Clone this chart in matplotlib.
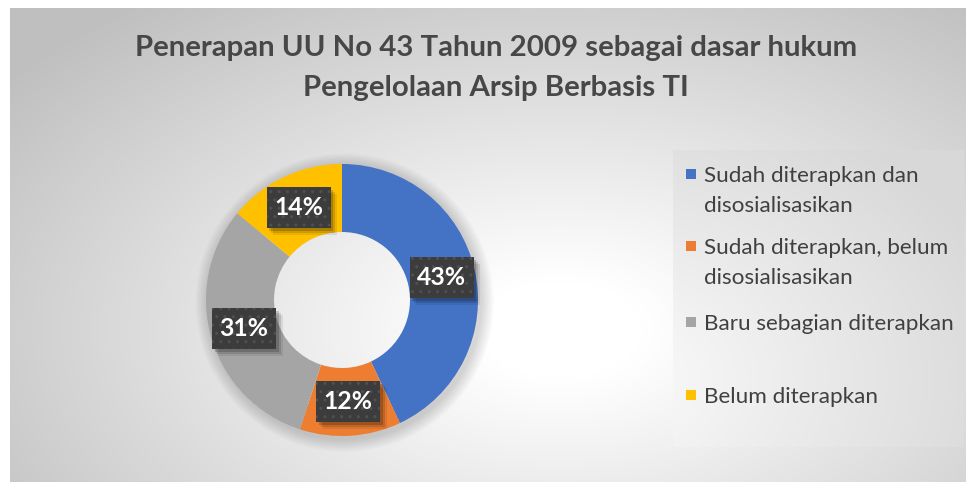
import numpy as np
import matplotlib
matplotlib.use("Agg")
import matplotlib.pyplot as plt
from matplotlib.patches import Rectangle, Wedge

# ---- data ----
title_lines = ["Penerapan UU No 43 Tahun 2009 sebagai dasar hukum",
               "Pengelolaan Arsip Berbasis TI"]
categories = ["Sudah diterapkan dan\ndisosialisasikan",
              "Sudah diterapkan, belum\ndisosialisasikan",
              "Baru sebagian diterapkan",
              "Belum diterapkan"]
values = [43, 12, 31, 14]
colors = ["#4472C4", "#ED7D31", "#A5A5A5", "#FFC000"]

W, H = 971, 482
fig = plt.figure(figsize=(W / 100, H / 100), dpi=100)
fig.patch.set_facecolor("white")

# background axes in pixel coordinates
bg = fig.add_axes([0, 0, 1, 1])
bg.set_xlim(0, W)
bg.set_ylim(H, 0)
bg.axis("off")

# chart area with radial gradient
x0, y0, x1, y1 = 10, 8, 966, 482
xx, yy = np.meshgrid(np.linspace(x0, x1, 400), np.linspace(y0, y1, 200))
cx, cy = 560, 330
d = np.sqrt(((xx - cx) / 560) ** 2 + ((yy - cy) / 330) ** 2)
t = np.clip((d - 0.15) / 1.1, 0, 1)
lo, hi = 1.0, 0.75
g = hi + (lo - hi) * (1 - t)
img = np.dstack([g, g, g])
bg.imshow(img, extent=(x0, x1, y1, y0), aspect="auto", zorder=0, interpolation="bilinear")

# legend box gradient
lx0, ly0, lx1, ly1 = 673, 150, 964, 447
lxx, lyy = np.meshgrid(np.linspace(lx0, lx1, 200), np.linspace(ly0, ly1, 100))
ld = np.sqrt(((lxx - 600) / 420) ** 2 + ((lyy - 380) / 300) ** 2)
lt = np.clip(ld, 0, 1)
lg = 0.99 - 0.14 * lt
bg.imshow(np.dstack([lg, lg, lg]), extent=(lx0, lx1, ly1, ly0), aspect="auto", zorder=1,
          interpolation="bilinear")

# title
tfont = dict(family=["Lato", "DejaVu Sans"], fontweight="bold", color="#474747", fontsize=21.2)
bg.text(496, 48, title_lines[0], ha="center", va="center", zorder=3, **tfont)
bg.text(496, 88, title_lines[1], ha="center", va="center", zorder=3, **tfont)

# legend (manual)
leg_y = [174, 246, 322, 395]
for cat, col, ly in zip(categories, colors, leg_y):
    bg.add_patch(Rectangle((686, ly - 5), 10, 10, facecolor=col, edgecolor="none", zorder=3))
    for i, line in enumerate(cat.split("\n")):
        bg.text(704, ly + 30 * i, line, ha="left", va="center_baseline", fontsize=16.2,
                color="#404040", family=["Lato", "DejaVu Sans"], zorder=3)

# donut
cxp, cyp, r = 342, 300, 136
ax = fig.add_axes([(cxp - r) / W, 1 - (cyp + r) / H, 2 * r / W, 2 * r / H])
wedges, _ = ax.pie(values, colors=colors, startangle=90, counterclock=False,
                   radius=1, wedgeprops=dict(width=0.5, edgecolor="none", zorder=2))
ax.set_xlim(-1, 1)
ax.set_ylim(-1, 1)
ax.axis("off")
for w in wedges:
    w.set_clip_on(False)

# soft outer shadow (rings only, hole stays clear)
for k in range(8):
    ax.add_patch(Wedge((0.02, -0.02), 1.0 + 0.012 * (k + 1), 0, 360, width=0.2 + 0.012 * (k + 1),
                       facecolor="black", alpha=0.018, edgecolor="none", zorder=1,
                       clip_on=False))

cum = np.cumsum([0] + values[:-1])
total = sum(values)
bw, bh = 64 / 136, 41 / 136
for v, c0 in zip(values, cum):
    ang = np.deg2rad(90 - (c0 + v / 2) / total * 360)
    px, py = 0.75 * np.cos(ang), 0.75 * np.sin(ang)
    for k, a in [(0.05, 0.08), (0.035, 0.12), (0.02, 0.18)]:
        ax.add_patch(Rectangle((px - bw / 2 + k, py - bh / 2 - k), bw, bh, facecolor="black",
                               alpha=a, edgecolor="none", zorder=4, clip_on=False))
    ax.add_patch(Rectangle((px - bw / 2, py - bh / 2), bw, bh, facecolor="#3c3c3c",
                           edgecolor="#505050", linewidth=0, hatch="..", zorder=5,
                           clip_on=False))
    ax.text(px, py, f"{v}%", ha="center", va="center", fontsize=17.8, fontweight="bold",
            color="white", family=["Lato", "DejaVu Sans"], zorder=6)

fig.savefig("out.png", dpi=100, facecolor="white")
